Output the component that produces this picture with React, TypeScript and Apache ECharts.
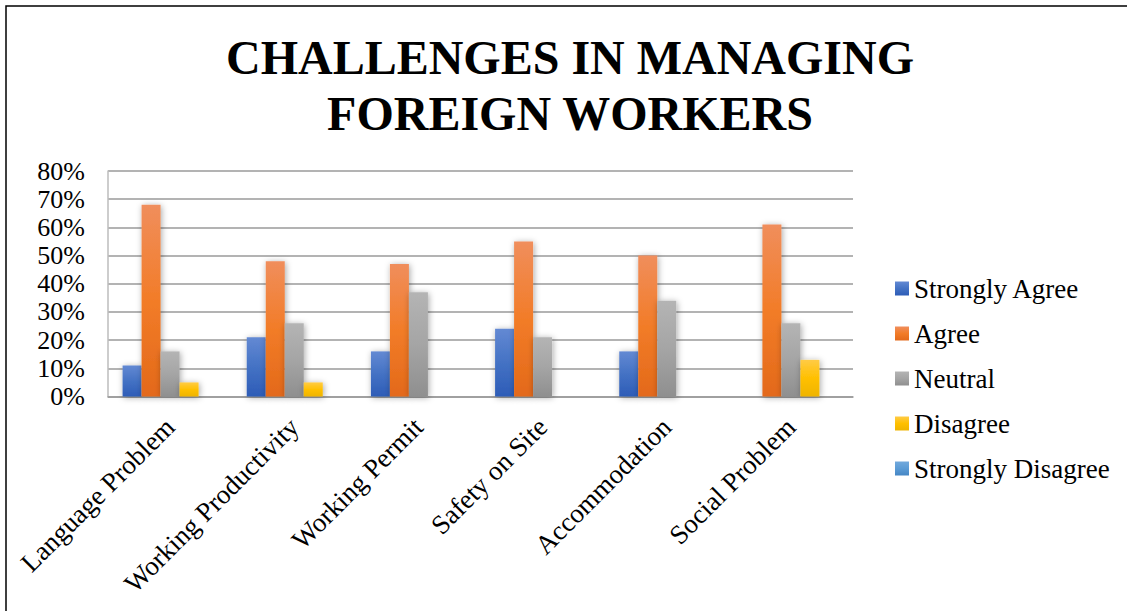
import React, { useEffect, useRef } from "react";
import * as echarts from "echarts";

const categories = [
  "Language Problem",
  "Working Productivity",
  "Working Permit",
  "Safety on Site",
  "Accommodation",
  "Social Problem",
];
const seriesNames = ["Strongly Agree", "Agree", "Neutral", "Disagree", "Strongly Disagree"];
const stronglyAgree = [0.11, 0.21, 0.16, 0.24, 0.16, 0];
const agree = [0.68, 0.48, 0.47, 0.55, 0.5, 0.61];
const neutral = [0.16, 0.26, 0.37, 0.21, 0.34, 0.26];
const disagree = [0.05, 0.05, 0, 0, 0, 0.13];
const stronglyDisagree = [0, 0, 0, 0, 0, 0];
const yTicks = [0, 0.1, 0.2, 0.3, 0.4, 0.5, 0.6, 0.7, 0.8];

const gradients: [string, string, string][] = [
  ["#6389d3", "#4472c4", "#2d5cb7"],
  ["#f08e5c", "#f27c28", "#e3691a"],
  ["#b4b4b4", "#a5a5a5", "#8f8f8f"],
  ["#ffcb45", "#ffc000", "#efb400"],
  ["#72a9dc", "#5b9bd5", "#4586c4"],
];

const FONT = "'Liberation Serif', 'Times New Roman', serif";

export default function App() {
  const ref = useRef<HTMLDivElement>(null);
  useEffect(() => {
    document.body.style.margin = "0";
    const chart = echarts.init(ref.current!, undefined, { renderer: "svg" });
    const data = [stronglyAgree, agree, neutral, disagree, stronglyDisagree];
    const option: any = {
      animation: false,
      backgroundColor: "#ffffff",
      title: {
        text: "CHALLENGES IN MANAGING\nFOREIGN WORKERS",
        left: 570,
        top: 30,
        padding: 0,
        textAlign: "center",
        textStyle: {
          fontFamily: FONT,
          fontWeight: "bold",
          fontSize: 48,
          lineHeight: 55.5,
          color: "#000",
        },
      },
      graphic: [
        {
          type: "rect",
          shape: { x: 6, y: 6, width: 1300, height: 800 },
          style: { fill: "none", stroke: "#000", lineWidth: 1.5 },
          silent: true,
        },
      ],
      legend: {
        orient: "vertical",
        left: 895,
        top: 275,
        padding: 0,
        itemWidth: 14,
        itemHeight: 14,
        itemGap: 18,
        icon: "rect",
        textStyle: { fontFamily: FONT, fontSize: 27, lineHeight: 27, color: "#000" },
        data: seriesNames,
      },
      grid: { left: 108, right: 274, top: 171, bottom: 214.5, containLabel: false },
      xAxis: {
        type: "category",
        data: categories,
        axisLine: { show: true, lineStyle: { color: "#9a9a9a", width: 1.5 } },
        axisTick: { show: false },
        axisLabel: {
          rotate: 45,
          interval: 0,
          margin: 26,
          fontFamily: FONT,
          fontSize: 27,
          color: "#000",
        },
      },
      yAxis: {
        type: "value",
        min: 0,
        max: 0.8,
        interval: 0.1,
        axisLine: { show: true, lineStyle: { color: "#bdbdbd", width: 1.5 } },
        axisTick: { show: false },
        splitLine: { show: true, lineStyle: { color: "#9a9a9a", width: 1.5 } },
        axisLabel: {
          margin: 23,
          fontFamily: FONT,
          fontSize: 26,
          color: "#000",
          formatter: (v: number) => {
            const t = yTicks.find((x) => Math.abs(x - v) < 1e-6);
            return Math.round((t ?? v) * 100) + "%";
          },
        },
      },
      series: seriesNames.map((name, i) => ({
        name,
        type: "bar",
        data: data[i],
        barWidth: 19,
        barGap: "0%",
        itemStyle: {
          color: new echarts.graphic.LinearGradient(0, 0, 0, 1, [
            { offset: 0, color: gradients[i][0] },
            { offset: 0.5, color: gradients[i][1] },
            { offset: 1, color: gradients[i][2] },
          ]),
          shadowBlur: 6,
          shadowColor: "rgba(0,0,0,0.35)",
          shadowOffsetX: 1,
          shadowOffsetY: 1,
        },
      })),
    };
    chart.setOption(option);
    return () => chart.dispose();
  }, []);
  return <div ref={ref} style={{ width: 1127, height: 611 }} />;
}
